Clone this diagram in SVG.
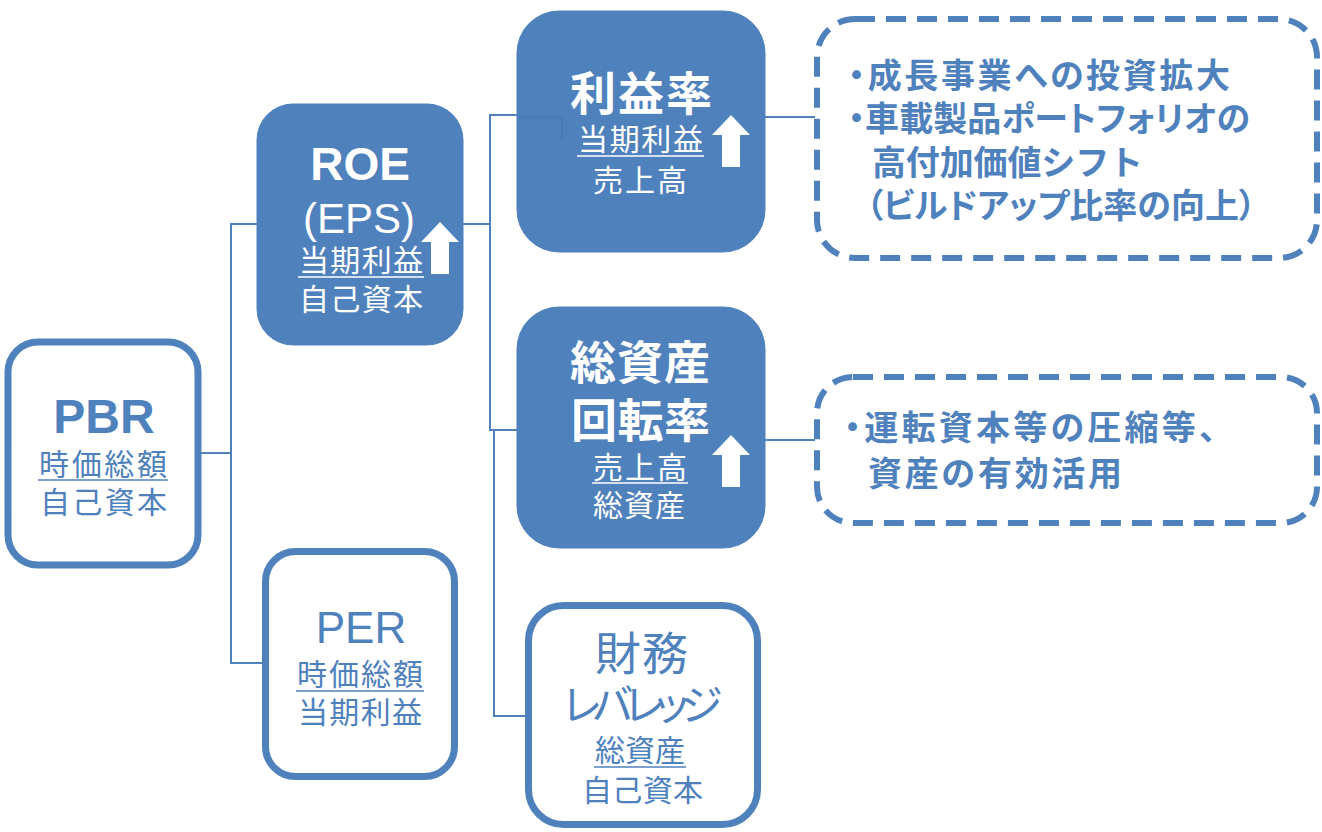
<svg xmlns="http://www.w3.org/2000/svg" width="1322" height="832" viewBox="0 0 1322 832">
<style>
.fill{fill:#4F81BD;stroke:#4F81BD;stroke-width:1}
.out{fill:#FFFFFF;stroke:#4F81BD;stroke-width:7}
.dash{fill:#FFFFFF;stroke:#4F81BD;stroke-width:6;stroke-dasharray:20 11}
.con{fill:none;stroke:#4F81BD;stroke-width:2}
.lat{font-family:"Liberation Sans",Arial,sans-serif}
.jp{font-family:"Noto Sans CJK JP","Noto Sans",sans-serif}
.w{fill:#FFFFFF}
.b{fill:#4F81BD}
.bold{font-weight:bold}
.ulw{stroke:#FFFFFF;stroke-width:1.6}
.ulb{stroke:#4F81BD;stroke-width:1.6}
.palt{font-feature-settings:"palt"}
</style>
<defs>
<path id="arrow" d="M0,0 L19,20 L9,20 L9,52 L-9,52 L-9,20 L-19,20 Z" fill="#FFFFFF"/>
</defs>
<rect width="1322" height="832" fill="#FFFFFF"/>

<g id="connectors">
<polyline class="con" points="200,453 231,453"/>
<polyline class="con" points="258,224 231,224 231,663 265,663"/>
<polyline class="con" points="463,224 490,224"/>
<polyline class="con" points="518,115 490,115 490,430 518,430"/>
<polyline class="con" points="494,430 494,716 526,716"/>
<polyline class="con" points="765,117 815,117"/>
<polyline class="con" points="765,440 815,440"/>
</g>

<g id="PBR">
<rect class="out" x="8" y="342" width="190" height="223" rx="30"/>
<text class="lat b bold" x="104" y="433" font-size="48" text-anchor="middle">PBR</text>
<text class="jp b" x="39" y="475" font-size="30" textLength="128" lengthAdjust="spacing">時価総額</text>
<line class="ulb" x1="38" y1="480" x2="168" y2="480"/>
<text class="jp b" x="40" y="513" font-size="30" textLength="127" lengthAdjust="spacing">自己資本</text>
</g>

<g id="ROE">
<rect class="fill" x="257" y="104" width="206" height="241" rx="36"/>
<text class="lat w bold" x="360" y="180" font-size="46" text-anchor="middle">ROE</text>
<text class="lat w" x="359" y="233" font-size="42" text-anchor="middle">(EPS)</text>
<text class="jp w" x="299" y="271" font-size="30" textLength="124" lengthAdjust="spacing">当期利益</text>
<line class="ulw" x1="298" y1="277" x2="424" y2="277"/>
<text class="jp w" x="299" y="310" font-size="30" textLength="124" lengthAdjust="spacing">自己資本</text>
<use href="#arrow" x="440" y="222"/>
</g>

<g id="PER">
<rect class="out" x="265.5" y="551.5" width="189" height="225" rx="30"/>
<text class="lat b" x="361" y="643" font-size="44" text-anchor="middle">PER</text>
<text class="jp b" x="297" y="685" font-size="30" textLength="126" lengthAdjust="spacing">時価総額</text>
<line class="ulb" x1="296" y1="691" x2="424" y2="691"/>
<text class="jp b" x="298" y="723" font-size="30" textLength="124" lengthAdjust="spacing">当期利益</text>
</g>

<g id="rieki">
<rect class="fill" x="517" y="11" width="248" height="241" rx="42"/>
<path d="M517,117 L562,117 L562,140" fill="none" stroke="#4576B4" stroke-width="1.2"/>
<text class="jp w bold" x="570" y="110" font-size="46" textLength="142" lengthAdjust="spacing">利益率</text>
<text class="jp w" x="578" y="150" font-size="30" textLength="125" lengthAdjust="spacing">当期利益</text>
<line class="ulw" x1="577" y1="156" x2="704" y2="156"/>
<text class="jp w" x="593" y="191" font-size="30" textLength="94" lengthAdjust="spacing">売上高</text>
<use href="#arrow" x="731" y="115"/>
</g>

<g id="soshisan">
<rect class="fill" x="517" y="307" width="248" height="241" rx="42"/>
<text class="jp w bold" x="570" y="379" font-size="46" textLength="140" lengthAdjust="spacing">総資産</text>
<text class="jp w bold" x="571" y="437" font-size="46" textLength="139" lengthAdjust="spacing">回転率</text>
<text class="jp w" x="593" y="478" font-size="30" textLength="94" lengthAdjust="spacing">売上高</text>
<line class="ulw" x1="592" y1="483" x2="688" y2="483"/>
<text class="jp w" x="593" y="516" font-size="30" textLength="92" lengthAdjust="spacing">総資産</text>
<use href="#arrow" x="731" y="435"/>
</g>

<g id="zaimu">
<rect class="out" x="528.5" y="605.5" width="229" height="219" rx="35"/>
<text class="jp b" x="595" y="670" font-size="46" textLength="93" lengthAdjust="spacing">財務</text>
<text class="jp b palt" x="563" y="720" font-size="42" textLength="159" lengthAdjust="spacing">レバレッジ</text>
<text class="jp b" x="595" y="761" font-size="30" textLength="90" lengthAdjust="spacing">総資産</text>
<line class="ulb" x1="594" y1="767" x2="686" y2="767"/>
<text class="jp b" x="582" y="801" font-size="30" textLength="121" lengthAdjust="spacing">自己資本</text>
</g>

<g id="note1">
<rect class="dash" x="817" y="19" width="500" height="239" rx="38"/>
<text class="jp b bold palt" x="848" y="88" font-size="34" textLength="382" lengthAdjust="spacing">・成長事業への投資拡大</text>
<text class="jp b bold palt" x="848" y="131" font-size="34" textLength="402" lengthAdjust="spacing">・車載製品ポートフォリオの</text>
<text class="jp b bold" x="872" y="175" font-size="34" textLength="271" lengthAdjust="spacing">高付加価値シフト</text>
<text class="jp b bold palt" x="866" y="218" font-size="34" textLength="390" lengthAdjust="spacing">（ビルドアップ比率の向上）</text>
</g>

<g id="note2">
<rect class="dash" x="817" y="377" width="500" height="146" rx="36"/>
<text class="jp b bold palt" x="844" y="440" font-size="34" textLength="372" lengthAdjust="spacing">・運転資本等の圧縮等、</text>
<text class="jp b bold" x="868" y="486" font-size="34" textLength="254" lengthAdjust="spacing">資産の有効活用</text>
</g>
</svg>
